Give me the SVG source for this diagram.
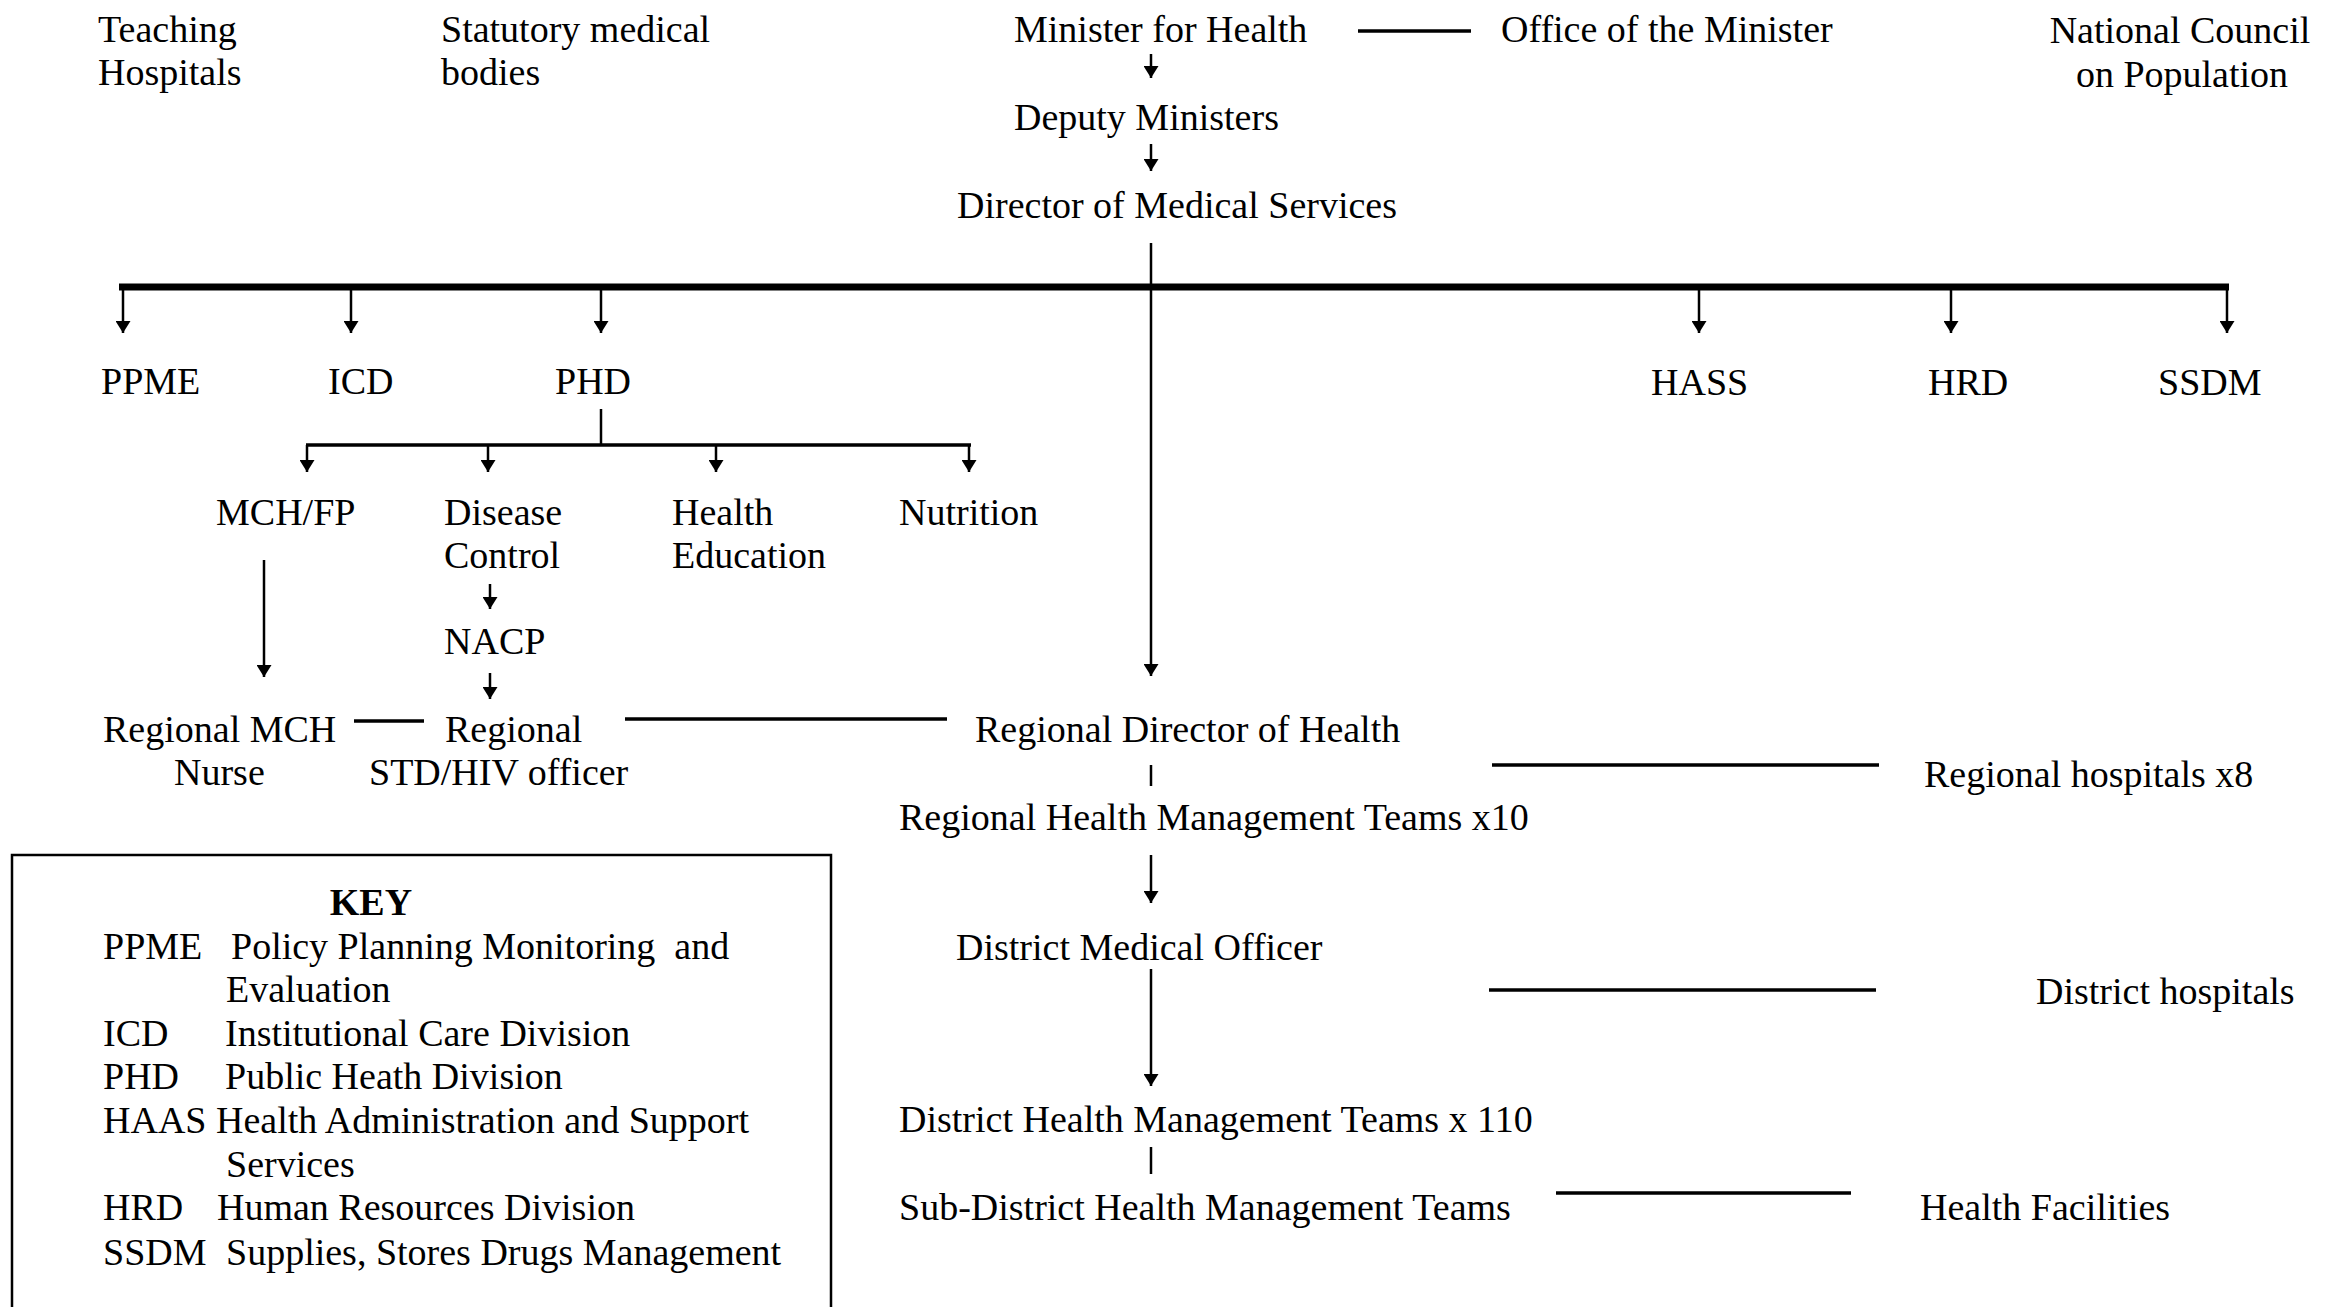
<svg xmlns="http://www.w3.org/2000/svg" width="2335" height="1307" viewBox="0 0 2335 1307">
<defs>
<marker id="ah" viewBox="0 0 12 15" refX="12" refY="7.5" markerWidth="12" markerHeight="15" markerUnits="userSpaceOnUse" orient="auto">
<path d="M0,0 L12,7.5 L0,15 z" fill="#000"/>
</marker>
</defs>
<style>
text{font-family:"Liberation Serif","Times New Roman",serif;font-size:38px;fill:#000}
.b{font-weight:bold}
.m{text-anchor:middle}
.c{stroke:#000;stroke-width:2.5;fill:none}
.a{stroke:#000;stroke-width:2.5;fill:none;marker-end:url(#ah)}
.r{stroke:#000;stroke-width:3.5;fill:none}
.bar{stroke:#000;stroke-width:7;fill:none}
</style>
<rect width="2335" height="1307" fill="#fff"/>
<g id="connectors">
<line class="r" x1="1358" y1="31" x2="1471" y2="31"/>
<line class="a" x1="1151" y1="54" x2="1151" y2="78"/>
<line class="a" x1="1151" y1="144" x2="1151" y2="171"/>
<line class="a" x1="1151" y1="243" x2="1151" y2="676"/>
<line class="bar" x1="119" y1="287" x2="2229" y2="287"/>
<line class="a" x1="123" y1="288" x2="123" y2="333"/>
<line class="a" x1="351" y1="288" x2="351" y2="333"/>
<line class="a" x1="601" y1="288" x2="601" y2="333"/>
<line class="a" x1="1699" y1="288" x2="1699" y2="333"/>
<line class="a" x1="1951" y1="288" x2="1951" y2="333"/>
<line class="a" x1="2227" y1="288" x2="2227" y2="333"/>
<line class="c" x1="601" y1="409" x2="601" y2="445"/>
<line class="r" x1="306" y1="445" x2="971" y2="445"/>
<line class="a" x1="307" y1="445" x2="307" y2="472"/>
<line class="a" x1="488" y1="445" x2="488" y2="472"/>
<line class="a" x1="716" y1="445" x2="716" y2="472"/>
<line class="a" x1="969" y1="445" x2="969" y2="472"/>
<line class="a" x1="264" y1="560" x2="264" y2="677"/>
<line class="a" x1="490" y1="584" x2="490" y2="609"/>
<line class="a" x1="490" y1="673" x2="490" y2="699"/>
<line class="r" x1="354" y1="721" x2="424" y2="721"/>
<line class="r" x1="625" y1="719" x2="947" y2="719"/>
<line class="c" x1="1151" y1="765" x2="1151" y2="786"/>
<line class="r" x1="1492" y1="765" x2="1879" y2="765"/>
<line class="a" x1="1151" y1="855" x2="1151" y2="903"/>
<line class="r" x1="1489" y1="990" x2="1876" y2="990"/>
<line class="a" x1="1151" y1="969" x2="1151" y2="1086"/>
<line class="c" x1="1151" y1="1147" x2="1151" y2="1174"/>
<line class="r" x1="1556" y1="1193" x2="1851" y2="1193"/>
</g>
<g id="teaching-hospitals"><text x="98" y="42">Teaching</text><text x="98" y="85">Hospitals</text></g>
<g id="statutory-bodies"><text x="441" y="42">Statutory medical</text><text x="441" y="85">bodies</text></g>
<g id="minister"><text x="1014" y="42">Minister for Health</text></g>
<g id="office-minister"><text x="1501" y="42">Office of the Minister</text></g>
<g id="ncp"><text class="m" x="2180" y="43">National Council</text><text class="m" x="2182" y="87">on Population</text></g>
<g id="deputy"><text x="1014" y="130">Deputy Ministers</text></g>
<g id="dms"><text x="957" y="218">Director of Medical Services</text></g>
<g id="ppme"><text x="101" y="394">PPME</text></g>
<g id="icd"><text x="328" y="394">ICD</text></g>
<g id="phd"><text x="555" y="394">PHD</text></g>
<g id="hass"><text x="1651" y="395">HASS</text></g>
<g id="hrd"><text x="1928" y="395">HRD</text></g>
<g id="ssdm"><text x="2158" y="395">SSDM</text></g>
<g id="mchfp"><text x="216" y="525">MCH/FP</text></g>
<g id="disease-control"><text x="444" y="525">Disease</text><text x="444" y="568">Control</text></g>
<g id="health-education"><text x="672" y="525">Health</text><text x="672" y="568">Education</text></g>
<g id="nutrition"><text x="899" y="525">Nutrition</text></g>
<g id="nacp"><text x="444" y="654">NACP</text></g>
<g id="regional-mch"><text x="103" y="742">Regional MCH</text><text x="174" y="785">Nurse</text></g>
<g id="regional-std"><text x="445" y="742">Regional</text><text x="369" y="785">STD/HIV officer</text></g>
<g id="rdh"><text x="975" y="742">Regional Director of Health</text></g>
<g id="regional-hospitals"><text x="1924" y="787">Regional hospitals x8</text></g>
<g id="rhmt"><text x="899" y="830">Regional Health Management Teams x10</text></g>
<g id="dmo"><text x="956" y="960">District Medical Officer</text></g>
<g id="district-hospitals"><text x="2036" y="1004">District hospitals</text></g>
<g id="dhmt"><text x="899" y="1132">District Health Management Teams x 110</text></g>
<g id="sdhmt"><text x="899" y="1220">Sub-District Health Management Teams</text></g>
<g id="health-facilities"><text x="1920" y="1220">Health Facilities</text></g>
<g id="key">
<rect x="12" y="855" width="819" height="470" fill="none" stroke="#000" stroke-width="2.5"/>
<text class="b m" x="371" y="915">KEY</text>
<text x="103" y="959">PPME</text><text x="231" y="959" xml:space="preserve">Policy Planning Monitoring  and</text>
<text x="226" y="1002">Evaluation</text>
<text x="103" y="1046">ICD</text><text x="225" y="1046">Institutional Care Division</text>
<text x="103" y="1089">PHD</text><text x="225" y="1089">Public Heath Division</text>
<text x="103" y="1133">HAAS</text><text x="216" y="1133">Health Administration and Support</text>
<text x="226" y="1177">Services</text>
<text x="103" y="1220">HRD</text><text x="217" y="1220">Human Resources Division</text>
<text x="103" y="1265">SSDM</text><text x="226" y="1265">Supplies, Stores Drugs Management</text>
</g>
</svg>
